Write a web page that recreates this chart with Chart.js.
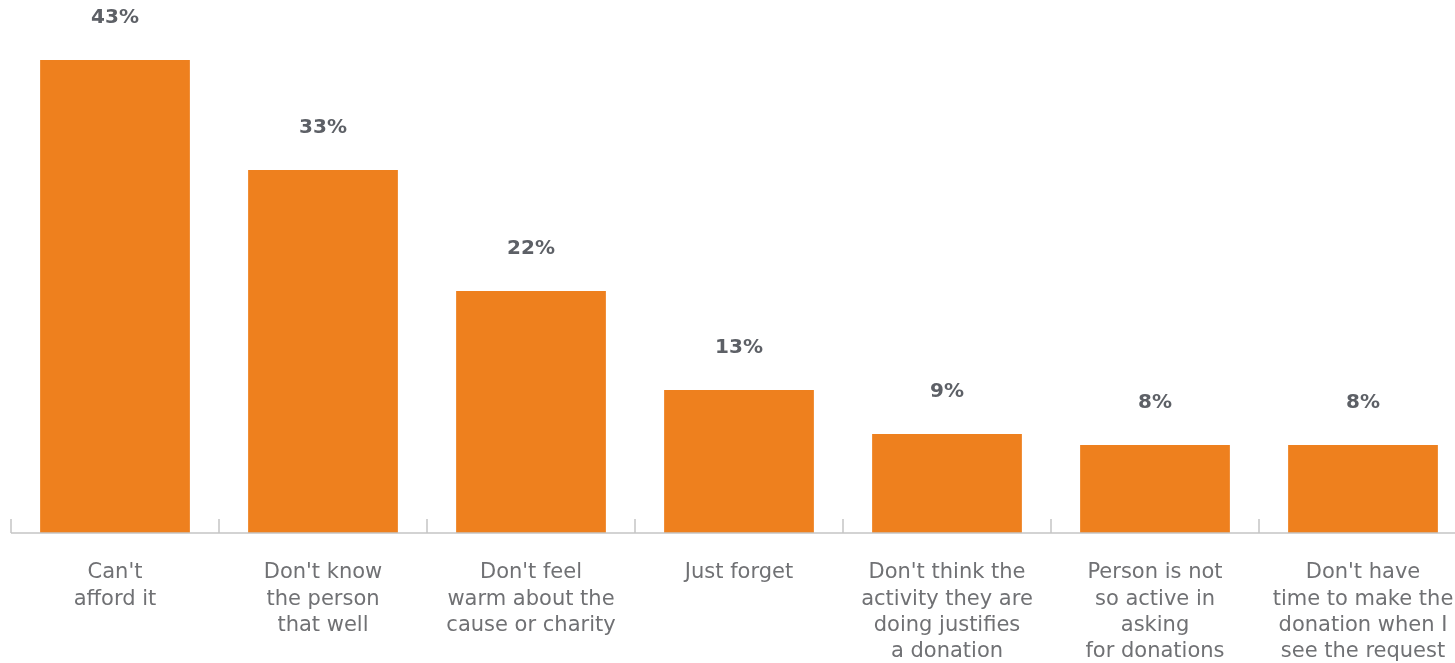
<!DOCTYPE html>
<html>
<head>
<meta charset="utf-8">
<script src="https://cdn.jsdelivr.net/npm/chart.js@4"></script>
<style>
html,body{margin:0;padding:0;background:#fff;overflow:hidden;width:1455px;height:663px;}
#wrap{position:absolute;left:0;top:0;width:1467px;height:663px;}
</style>
</head>
<body>
<div id="wrap"><canvas id="c"></canvas></div>
<script>
const categories = [
  ["Can't", "afford it"],
  ["Don't know", "the person", "that well"],
  ["Don't feel", "warm about the", "cause or charity"],
  ["Just forget"],
  ["Don't think the", "activity they are", "doing justifies", "a donation"],
  ["Person is not", "so active in", "asking", "for donations"],
  ["Don't have", "time to make the", "donation when I", "see the request"]
];
const values = [43, 33, 22, 13, 9, 8, 8];
const valueLabels = ["43%", "33%", "22%", "13%", "9%", "8%", "8%"];

const FONT = "'DejaVu Sans', sans-serif";

const axisPlugin = {
  id: 'axisPlugin',
  afterDatasetsDraw(chart) {
    const ctx = chart.ctx;
    const xs = chart.scales.x;
    const bottom = chart.chartArea.bottom;
    ctx.save();
    ctx.strokeStyle = '#c4c4c4';
    ctx.lineWidth = 1.5;
    ctx.beginPath();
    ctx.moveTo(chart.chartArea.left, bottom);
    ctx.lineTo(chart.width, bottom);
    ctx.stroke();
    const n = values.length;
    const half = (xs.getPixelForValue(1) - xs.getPixelForValue(0)) / 2;
    for (let i = 0; i < n; i++) {
      const x = xs.getPixelForValue(i) - half;
      ctx.beginPath();
      ctx.moveTo(x, bottom);
      ctx.lineTo(x, bottom - 14);
      ctx.stroke();
    }
    const meta = chart.getDatasetMeta(0);
    ctx.fillStyle = '#5d6066';
    ctx.font = "bold 20px " + FONT;
    ctx.textAlign = 'center';
    ctx.textBaseline = 'middle';
    meta.data.forEach((bar, i) => {
      ctx.fillText(valueLabels[i], bar.x, bar.y - 42);
    });
    ctx.restore();
  }
};

new Chart(document.getElementById('c'), {
  type: 'bar',
  data: {
    labels: categories,
    datasets: [{
      data: values,
      backgroundColor: '#EE801E',
      borderWidth: 0,
      categoryPercentage: 1,
      barPercentage: 0.72
    }]
  },
  options: {
    responsive: true,
    maintainAspectRatio: false,
    animation: false,
    layout: { padding: { left: 11, right: 0, top: 0, bottom: 0 } },
    plugins: { legend: { display: false }, tooltip: { enabled: false } },
    scales: {
      x: {
        grid: { display: false, drawTicks: false },
        border: { display: false },
        afterFit(scale) { scale.height = 130; scale.paddingLeft = 0; scale.paddingRight = 0; },
        ticks: {
          color: '#707174',
          padding: 27,
          maxRotation: 0,
          autoSkip: false,
          font: { family: FONT, size: 21, lineHeight: 1.24 }
        }
      },
      y: {
        display: false,
        min: 0,
        max: 48.45
      }
    }
  },
  plugins: [axisPlugin]
});
</script>
</body>
</html>
